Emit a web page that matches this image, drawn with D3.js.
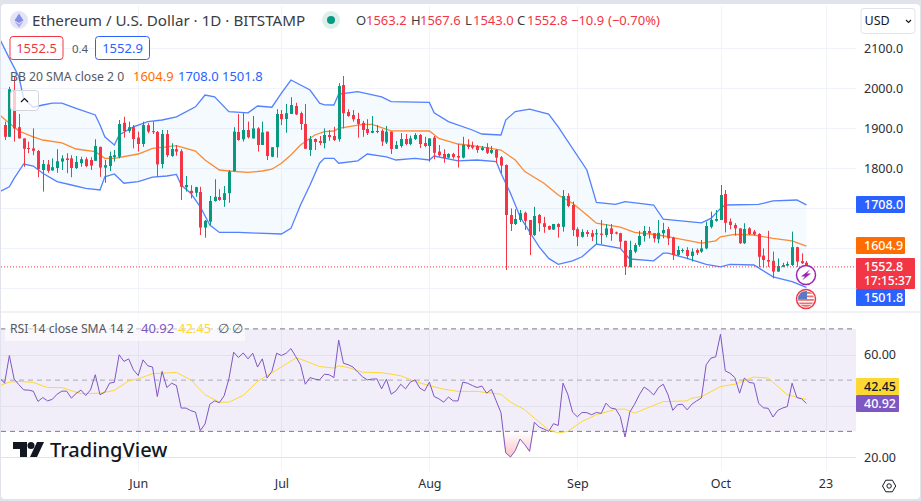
<!DOCTYPE html>
<html>
<head>
<meta charset="utf-8">
<script src="https://cdn.jsdelivr.net/npm/d3@7"></script>
<style>
    html, body { margin: 0; padding: 0; background: #e0e3eb; overflow: hidden; }
    text { font-family: "Noto Sans", sans-serif; }
</style>
</head>
<body>
<svg id="chart" width="921" height="501"></svg>
<script>
'use strict';

// daily candles, the first one is 4 May 2023
const firstDay = new Date(2023, 4, 4);
const opens = [1907.5,1878,1995,1902,1874,1850,1849,1842.5,1795,1809,
    1794,1800,1816,1824,1824,1800,1812,1822,1820,1818,
    1853,1801,1805,1827,1828,1913,1893,1902,1876,1860,
    1907,1892,1890,1810,1885,1830,1847,1842,1752,1743,
    1738,1740,1651,1666,1717.5,1727.5,1720,1737,1792.5,1890,
    1871.7,1895,1874,1899,1857.5,1891,1828,1852,1935,1922.5,
    1935,1955,1937,1910,1845,1872.5,1867.5,1862,1882.5,1880,
    1872,2007.5,1940,1932.5,1922.5,1913,1897.5,1888,1891,1893,
    1864,1891,1848,1855,1872.5,1860,1872.5,1882.5,1862.5,1855,
    1876,1841,1835,1826,1835,1830,1826,1858,1856,1855,
    1845,1851.7,1838,1845,1827,1807.5,1682.5,1660,1670,1688,
    1670,1632.5,1682.5,1662,1655,1646,1660,1653,1730,1707.5,
    1647,1628,1640,1637,1634,1636,1632.5,1649,1639,1637,
    1618,1552,1591,1607.5,1630,1642.5,1637,1622,1637,1647,
    1626,1582.5,1592.5,1595,1580,1595,1591,1599,1653,1668,
    1670,1735,1666,1657.5,1649,1612,1649,1641,1635,1581,
    1570,1568,1541,1553,1556,1557.5,1602,1567,1563.2];
const highs = [1916,2003,2028,1935,1874,1866,1899,1845,1820,1820,
    1824,1847,1832,1837,1832,1830,1828,1827,1827,1872,
    1853,1820,1841,1845,1920,1928,1916,1907.5,1891,1916,
    1912,1916,1892.5,1895,1895,1862,1857.5,1847,1780,1757,
    1753,1753,1670,1730,1772,1747,1755,1795,1902,1935,
    1937,1916,1930,1902,1916,1891,1852,1947,1945,1960,
    1977,1963,1941,1960,1880,1874,1880,1899,1895,1903,
    2012,2030,1947,1945,1938,1918,1922,1930,1907.5,1897,
    1905,1891,1867.5,1887,1885,1881,1887,1885,1878,1874,
    1880,1857.5,1847,1837,1838,1860,1878,1872,1866,1857.5,
    1855,1862,1855,1847,1830,1809,1699,1697,1695,1691,
    1670,1703,1685,1678,1656,1660,1662,1745,1737,1716,
    1652,1647,1645,1645,1647,1670,1660,1660,1641,1638,
    1618,1618,1612,1643,1655,1653,1637,1670,1663,1653,
    1628,1605,1599,1602,1599,1599,1620,1666,1691,1695,
    1757.5,1745,1674,1662,1649,1662,1652,1645,1637,1599,
    1643,1591,1574,1563,1566,1641,1603,1586.7,1567.6];
const lows = [1870,1878,1866,1874,1803,1837,1832,1777,1741,1788,
    1793,1788,1795,1787,1777,1797.5,1803,1802,1795,1818,
    1778,1763,1792.5,1816,1824,1876,1888,1849,1841,1853,
    1887,1885,1778,1799,1827,1828,1831,1720,1741,1724,
    1728,1632.5,1626,1657.5,1716,1718,1703,1713,1791,1868,
    1866,1874,1874,1841,1857.5,1820,1827,1826,1907.5,1888,
    1935,1932.5,1895,1848,1830,1845,1857,1849,1868,1867.5,
    1866,1899,1928,1916,1876,1878,1882.5,1887,1887,1855,
    1860,1835,1847.5,1851,1857,1857,1870,1850,1852,1816,
    1822,1828,1813,1824,1823,1801,1824,1847,1847,1838,
    1843,1835,1835,1813,1787,1545,1642.5,1657.5,1665,1645,
    1582.5,1630,1641,1638,1645,1645,1626,1641,1702,1630,
    1605,1626,1628,1617.5,1610,1610,1627,1618,1634,1599,
    1532.5,1552,1587,1603,1616,1624,1614,1612,1624,1607.5,
    1570,1580,1588,1572,1566,1582.5,1588,1597,1649,1666,
    1670,1639,1647,1631,1610,1610,1632.5,1631,1552,1551,
    1553,1524,1541,1552,1555,1555,1553,1560,1543];
const closes = [1878,1997,1899,1874,1848,1847.5,1843,1797,1810,1793,
    1802,1817,1824,1820,1800,1815,1822,1805,1806,1855,
    1801,1807,1830,1832,1910,1892.5,1902,1872.5,1860,1907.5,
    1891,1890,1809,1885,1832,1847.5,1841,1753,1757.5,1737,
    1752,1651,1668,1717.5,1728,1720,1737,1791,1891,1870,
    1895,1877,1899,1857.5,1889,1830,1852,1935,1922,1937,
    1957.5,1934,1910,1848,1872.5,1865,1862.5,1882.5,1877.5,1870,
    2005,1937,1930,1922,1910,1895,1887.5,1892.5,1892.5,1866,
    1891,1847.5,1857.5,1872.5,1860,1874,1882.5,1860,1855,1874,
    1838,1832,1825,1835,1827.5,1826,1858,1852.5,1851,1845,
    1851,1838,1845,1826,1806,1682.5,1660,1672.5,1687,1668,
    1632.5,1680,1662,1652.5,1646,1660,1652.5,1730,1705,1645,
    1628,1640,1635,1628,1637,1633,1649,1635,1636,1616,
    1553,1595,1607.5,1630,1642.5,1637,1624,1638,1645,1624,
    1582.5,1595,1595,1580,1591,1588,1599,1655,1670,1672.5,
    1732.5,1663,1657.5,1649,1612,1647.5,1635,1634,1578,1570,
    1566,1541,1555,1557.5,1560,1602,1566,1562,1552.8];

// bollinger bands, [candle number, price] read where the lines bend
const bbUpper = [[0,2122],[2,2074],[4,2028],[5,1974],[7,1952],[9,1957.5],[11,1962],[13,1962],[16,1949],[20,1932.5],[21,1907.5],[22,1878],[24,1857.5],[25,1882.5],[28,1903],[31,1916],[34,1920],[37,1928],[41,1953],[43,1982.5],[45,1978],[48,1941],[52,1938],[54,1955],[57,1952],[59,1987],[61,2020],[65,1995],[67,1962],[68,1958],[70,1957.5],[71,1985],[75,1991],[80,1978],[82,1966],[90,1964],[91,1938],[94,1916],[99,1895],[101,1885],[105,1882.5],[106,1920],[108,1941],[111,1947],[115,1935],[117,1903],[123,1795],[125,1714],[129,1709],[131,1716],[137,1707.5],[139,1672],[147,1663],[149,1674],[151,1699],[152,1707.5],[159,1709],[162,1718],[167,1720],[169,1708]];
const bbBasis = [[0,1932.5],[1,1922],[4,1892.5],[7,1878],[9,1870],[13,1863],[16,1847.5],[20,1841],[22,1824],[24,1824],[29,1835],[32,1849],[35,1853],[37,1856],[41,1842.5],[43,1820],[46,1795],[48,1792.5],[52,1789],[55,1792.5],[57,1797],[59,1812],[61,1832.5],[63,1857.5],[66,1882.5],[68,1891],[70,1892.5],[71,1899],[76,1909],[78,1909],[82,1893],[90,1892.5],[92,1874],[96,1860],[101,1853],[105,1845],[108,1820],[110,1791],[114,1762],[117,1732.5],[120,1712],[123,1682.5],[125,1662],[130,1652],[133,1639],[138,1632.5],[141,1626],[147,1612],[150,1618],[151,1628],[154,1634],[158,1632.5],[162,1624],[166,1618],[169,1604.9]];
const bbLower = [[0,1741],[2,1753],[3,1774],[5,1810],[7,1805],[9,1787],[12,1766],[15,1757.5],[18,1749],[21,1745],[22,1778],[24,1785],[26,1762],[29,1766],[32,1777],[35,1780],[37,1784],[38,1757.5],[40,1737],[42,1703],[44,1657.5],[46,1639],[50,1639],[54,1637],[59,1635],[61,1649],[63,1707.5],[65,1757.5],[67,1812],[68,1824],[70,1824],[71,1812],[75,1818],[77,1835],[81,1828],[83,1820],[87,1824],[90,1820],[91,1830],[96,1818],[100,1820],[104,1816],[105,1787],[107,1737],[109,1678],[113,1603],[115,1574],[117,1559],[120,1568],[122,1578],[125,1610],[130,1599],[132,1572.5],[137,1568],[139,1587],[140,1587],[144,1574],[148,1559],[151,1553],[153,1559],[158,1557.5],[162,1528],[166,1516],[169,1501.8]];

// rsi per candle, the first value belongs to the day before the first candle
const rsiValues = [50.8,48.8,59.6,50.4,48.2,46.2,46.1,45.7,41.7,43.2,41.9,42.5,44.5,45.7,45.7,43.0,44.8,46.1,44.0,46.2,
    52.1,44.3,45.3,48.8,49.2,59.9,57.3,58.3,54.0,51.8,57.9,55.6,55.1,43.6,53.4,47.1,48.8,47.9,39.1,39.1,
    38.1,37.5,30.3,32.9,40.6,41.9,41.2,43.9,50.5,60.9,58.8,60.6,58.3,60.5,55.1,58.3,50.8,53.4,60.5,59.6,
    60.5,62.3,59.2,56.0,48.4,51.0,50.4,50.1,52.3,52.1,51.0,65.6,56.6,56.0,55.1,53.1,51.3,50.1,50.4,50.5,
    46.6,50.4,44.5,45.8,48.4,46.6,49.2,50.1,46.9,45.8,49.2,43.6,42.7,41.4,43.4,41.9,41.9,49.2,48.8,47.9,
    47.1,47.7,44.9,46.4,41.9,37.3,21.6,20.0,22.5,27.0,24.8,22.2,33.6,31.7,30.9,30.0,33.0,32.3,48.8,44.5,
    37.5,35.7,37.4,37.3,36.5,37.4,37.0,41.0,39.1,38.8,35.8,27.8,37.5,40.6,44.3,47.3,46.0,44.2,47.1,48.4,
    44.3,38.2,40.4,40.6,38.4,40.6,41.9,43.0,56.0,58.6,59.1,67.9,53.6,52.7,51.0,44.9,50.8,49.1,48.8,40.9,
    39.2,39.0,35.6,38.2,39.1,39.7,48.8,43.2,42.7,40.92];
const rsiMa = [[0,47.9],[2,49.2],[4,49.5],[7,49.1],[10,47.1],[13,47.1],[17,44.7],[21,44.9],[24,46],[27,49.7],[29,50.5],[32,52.5],[37,53],[40,50.1],[43,44.3],[46,41.4],[48,41.4],[51,44],[54,49.5],[58,54],[62,58.6],[63,58.2],[67,55.3],[70,54.7],[71,55.6],[73,54.9],[76,53.1],[80,52.9],[84,51.7],[87,49.5],[90,47.8],[93,46.5],[96,45.6],[100,45.6],[105,44.5],[107,41.4],[110,38.4],[112,35.2],[115,30.6],[117,29.4],[119,30],[122,33.9],[125,36.5],[129,38.6],[131,38.7],[133,37.1],[136,39.4],[139,41.6],[144,41.9],[145,43],[147,43.5],[151,47.5],[154,48.4],[158,51.2],[161,50.8],[165,44.3],[169,42.45]];

const priceGrid = [2100, 2000, 1900, 1800, 1700, 1600, 1500];
const priceTicks = [2100, 2000, 1900, 1800]; // the others sit under the value badges
const rsiTicks = [60, 40, 20];
const rsiTickLabels = [60, 20];
const timeTicks = [new Date(2023, 5, 1), new Date(2023, 6, 1), new Date(2023, 7, 1), new Date(2023, 8, 1), new Date(2023, 9, 1), new Date(2023, 9, 23)];
const timeTickLabels = ["Jun", "Jul", "Aug", "Sep", "Oct", "23"];

const COLORS = {
    up: "#089981", down: "#f23645", band: "#2962ff", basis: "#ff6d00",
    rsi: "#7e57c2", rsiMa: "#fdd835", grid: "#f0f3fa", text: "#131722", muted: "#555862"
};
const CHART_RIGHT = 856;

const svg = d3.select("#chart");

// scales, the calendar is continuous so a time scale works
const x = d3.scaleTime()
    .domain([new Date(2023, 9, 1), new Date(2023, 9, 23)])
    .range([720.5, 825.5]);
const y = d3.scaleLinear().domain([1500, 2100]).range([288, 48]);
const yRsi = d3.scaleLinear().domain([20, 60]).range([457, 354.5]);

const candleDate = (n) => d3.timeDay.offset(firstDay, n - 1);

// chart card
svg.append("rect")
    .attr("x", 1).attr("y", 4)
    .attr("width", 919).attr("height", 495)
    .attr("rx", 4)
    .attr("fill", "#ffffff");

// clip for everything that lives in the panes
svg.append("clipPath").attr("id", "price-clip").append("rect")
    .attr("x", 1).attr("y", 5).attr("width", CHART_RIGHT - 1).attr("height", 307);
svg.append("clipPath").attr("id", "rsi-clip").append("rect")
    .attr("x", 1).attr("y", 313).attr("width", CHART_RIGHT - 1).attr("height", 158);

// grid
const grid = svg.append("g").attr("class", "grid").attr("stroke", COLORS.grid).attr("stroke-width", 1);
timeTicks.forEach((d) => {
    const px = Math.round(x(d)) + 0.5;
    grid.append("line").attr("x1", px).attr("x2", px).attr("y1", 6).attr("y2", 311);
    grid.append("line").attr("x1", px).attr("x2", px).attr("y1", 313).attr("y2", 471);
});
priceGrid.forEach((d) => {
    const py = Math.round(y(d)) + 0.5;
    grid.append("line").attr("x1", 1).attr("x2", CHART_RIGHT).attr("y1", py).attr("y2", py);
});

// pane separator
svg.append("line")
    .attr("x1", 1).attr("x2", 920).attr("y1", 312).attr("y2", 312)
    .attr("stroke", "#e0e3eb");

// price pane
const pricePane = svg.append("g").attr("clip-path", "url(#price-clip)");
const priceLine = d3.line().x((d) => x(candleDate(d[0]))).y((d) => y(d[1]));

pricePane.append("path")
    .attr("d", priceLine(bbUpper.concat(bbLower.slice().reverse())) + "Z")
    .attr("fill", "rgba(33,150,243,0.05)");

[[bbUpper, COLORS.band], [bbLower, COLORS.band], [bbBasis, COLORS.basis]].forEach(([values, color]) => {
    pricePane.append("path")
        .attr("d", priceLine(values))
        .attr("fill", "none")
        .attr("stroke", color)
        .attr("stroke-opacity", 0.8)
        .attr("stroke-width", 1.3);
});

// candles
const candles = pricePane.selectAll("g.candle")
    .data(opens.map((o, i) => ({ n: i + 1, o: o, h: highs[i], l: lows[i], c: closes[i] })))
    .join("g")
    .classed("candle", true)
    .attr("fill", (d) => d.c >= d.o ? COLORS.up : COLORS.down);

candles.append("rect")
    .attr("x", (d) => Math.round(x(candleDate(d.n))))
    .attr("width", 1)
    .attr("y", (d) => y(d.h))
    .attr("height", (d) => y(d.l) - y(d.h));

candles.append("rect")
    .attr("x", (d) => Math.round(x(candleDate(d.n))) - 1)
    .attr("width", 3)
    .attr("y", (d) => y(Math.max(d.o, d.c)))
    .attr("height", (d) => Math.max(1, Math.abs(y(d.o) - y(d.c))));

// last price line
svg.append("line")
    .attr("x1", 1).attr("x2", CHART_RIGHT)
    .attr("y1", y(closes[closes.length - 1])).attr("y2", y(closes[closes.length - 1]))
    .attr("stroke", COLORS.down)
    .attr("stroke-dasharray", "1,2");

// rsi pane
const rsiPane = svg.append("g").attr("clip-path", "url(#rsi-clip)");
rsiPane.append("rect")
    .attr("x", 1).attr("width", CHART_RIGHT - 1)
    .attr("y", yRsi(70)).attr("height", yRsi(30) - yRsi(70))
    .attr("fill", "rgba(126,87,194,0.1)");

rsiTicks.forEach((d) => {
    rsiPane.append("line")
        .attr("x1", 1).attr("x2", CHART_RIGHT)
        .attr("y1", Math.round(yRsi(d)) + 0.5).attr("y2", Math.round(yRsi(d)) + 0.5)
        .attr("stroke", "#e4e1ef");
});

[[70, "#787b86"], [50, "rgba(120,123,134,0.6)"], [30, "#787b86"]].forEach(([level, color]) => {
    rsiPane.append("line")
        .attr("x1", 1).attr("x2", CHART_RIGHT)
        .attr("y1", yRsi(level)).attr("y2", yRsi(level))
        .attr("stroke", color)
        .attr("stroke-dasharray", "5,4");
});

// oversold gradient under the 30 line
const defs = svg.append("defs");
const oversold = defs.append("linearGradient")
    .attr("id", "oversold")
    .attr("gradientUnits", "userSpaceOnUse")
    .attr("x1", 0).attr("x2", 0)
    .attr("y1", yRsi(30)).attr("y2", yRsi(20));
oversold.append("stop").attr("offset", 0).attr("stop-color", "#f23645").attr("stop-opacity", 0);
oversold.append("stop").attr("offset", 1).attr("stop-color", "#f23645").attr("stop-opacity", 0.3);

const rsiX = (d, i) => x(candleDate(i));
rsiPane.append("path")
    .attr("d", d3.area()
        .x(rsiX)
        .y0(yRsi(30))
        .y1((d) => yRsi(Math.min(d, 30)))(rsiValues))
    .attr("fill", "url(#oversold)");

rsiPane.append("path")
    .attr("d", d3.line().x((d) => x(candleDate(d[0]))).y((d) => yRsi(d[1]))(rsiMa))
    .attr("fill", "none")
    .attr("stroke", COLORS.rsiMa)
    .attr("stroke-width", 1);

rsiPane.append("path")
    .attr("d", d3.line().x(rsiX).y((d) => yRsi(d))(rsiValues))
    .attr("fill", "none")
    .attr("stroke", COLORS.rsi)
    .attr("stroke-width", 1);

// axes
const styleAxis = (g) => {
    g.select(".domain").remove();
    g.selectAll(".tick line").remove();
    g.selectAll("text")
        .attr("fill", "#2a2e39")
        .style("font-size", "12.5px")
        .style("font-family", '"Noto Sans", sans-serif');
};

svg.append("g")
    .attr("transform", `translate(856,0)`)
    .call(d3.axisRight(y).tickValues(priceTicks).tickFormat(d3.format(".1f")).tickSize(0).tickPadding(8))
    .call(styleAxis);

svg.append("g")
    .attr("transform", `translate(856,0)`)
    .call(d3.axisRight(yRsi).tickValues(rsiTickLabels).tickFormat(d3.format(".2f")).tickSize(0).tickPadding(8))
    .call(styleAxis);

svg.append("g")
    .attr("transform", `translate(0,472)`)
    .call(d3.axisBottom(x).tickValues(timeTicks)
        .tickFormat((d, i) => timeTickLabels[i]).tickSize(0).tickPadding(7))
    .call(styleAxis);

// header texts, a helper keeps the many small labels short
const label = (text, px, py, color, size, anchor, weight) => svg.append("text")
    .attr("x", px).attr("y", py)
    .attr("fill", color)
    .attr("font-size", size || 13)
    .attr("text-anchor", anchor || "start")
    .attr("font-weight", weight || 400)
    .text(text);

// coin icon
svg.append("circle").attr("cx", 19).attr("cy", 20).attr("r", 9).attr("fill", "#e3e5f5");
svg.append("path").attr("d", "M19,13.5 L23.5,20.5 L19,23 L14.5,20.5 Z").attr("fill", "#7f8fe8");
svg.append("path").attr("d", "M19,24 L23.5,21.5 L19,27.5 L14.5,21.5 Z").attr("fill", "#b8a4ec");

label("Ethereum / U.S. Dollar · 1D · BITSTAMP", 32, 26, "#3a3d46", 15.2);

svg.append("circle").attr("cx", 331).attr("cy", 20).attr("r", 9).attr("fill", "#dcefeb");
svg.append("circle").attr("cx", 331).attr("cy", 20).attr("r", 4).attr("fill", COLORS.up);

// ohlc legend
const ohlcLetters = ["O", "H", "L", "C"];
const ohlcValues = ["1563.2", "1567.6", "1543.0", "1552.8"];
const ohlcLetterX = [356, 411, 465, 517];
const ohlcValueX = [366, 420, 473, 527];
ohlcLetters.forEach((d, i) => {
    label(d, ohlcLetterX[i], 25, "#3a3d46", 13);
    label(ohlcValues[i], ohlcValueX[i], 25, COLORS.down, 13);
});
label("−10.9", 571, 25, COLORS.down, 13);
label("(−0.70%)", 608, 25, COLORS.down, 13);

// bid / ask boxes
svg.append("rect").attr("x", 10).attr("y", 36.5).attr("width", 53).attr("height", 23)
    .attr("rx", 3).attr("fill", "#fff").attr("stroke", COLORS.down);
label("1552.5", 36.5, 53, COLORS.down, 13, "middle");
label("0.4", 80, 53, COLORS.muted, 11.5, "middle");
svg.append("rect").attr("x", 95.5).attr("y", 36.5).attr("width", 54).attr("height", 23)
    .attr("rx", 3).attr("fill", "#fff").attr("stroke", "#2962ff");
label("1552.9", 122.5, 53, "#2962ff", 13, "middle");

// indicator legend
label("BB 20 SMA close 2 0", 10, 81, COLORS.muted, 12.2);
label("1604.9", 133, 81, COLORS.basis, 13);
label("1708.0", 178, 81, "#2962ff", 13);
label("1501.8", 222, 81, "#2962ff", 13);

// collapse button
svg.append("rect").attr("x", 10.5).attr("y", 90.5).attr("width", 28).attr("height", 20)
    .attr("rx", 3).attr("fill", "rgba(255,255,255,0.75)").attr("stroke", "#d1d4dc");
svg.append("path").attr("d", "M21,102 L24.5,98.5 L28,102")
    .attr("fill", "none").attr("stroke", COLORS.text).attr("stroke-width", 1.2);

// currency select
svg.append("rect").attr("x", 861).attr("y", 8.5).attr("width", 54).attr("height", 25)
    .attr("rx", 3).attr("fill", "#fff").attr("stroke", "#e0e3eb");
label("USD", 864.5, 25, COLORS.text, 12.5);
svg.append("path").attr("d", "M906,20 L908.5,22.5 L911,20")
    .attr("fill", "none").attr("stroke", COLORS.text).attr("stroke-width", 1.1);

// rsi legend
svg.append("rect").attr("x", 5).attr("y", 315).attr("width", 240).attr("height", 26)
    .attr("fill", "rgba(255,255,255,0.6)");
label("RSI 14 close SMA 14 2", 10, 333, COLORS.muted, 12.2);
label("40.92", 141, 333, COLORS.rsi, 13);
label("42.45", 178, 333, COLORS.rsiMa, 13);
label("∅", 218, 333, COLORS.muted, 12.5);
label("∅", 232, 333, COLORS.muted, 12.5);

// last value badges
const badge = (text, top, bottom, fill, color, right) => {
    svg.append("rect").attr("x", 856).attr("y", top)
        .attr("width", (right || 905) - 856).attr("height", bottom - top)
        .attr("rx", 1).attr("fill", fill);
    label(text, 864, (top + bottom) / 2 + 4.5, color, 12.5, "start", 500);
};
badge("1708.0", 196, 213, "#2962ff", "#fff");
badge("1604.9", 237, 254, COLORS.basis, "#fff");
badge("1501.8", 289, 306, "#2962ff", "#fff");
svg.append("rect").attr("x", 856).attr("y", 258).attr("width", 59).attr("height", 31)
    .attr("rx", 1).attr("fill", COLORS.down);
label("1552.8", 864, 271, "#fff", 12.5, "start", 500);
label("17:15:37", 864, 285, "#fff", 12, "start", 500);
badge("42.45", 378, 395, COLORS.rsiMa, COLORS.text, 899);
badge("40.92", 395, 412, COLORS.rsi, "#fff", 899);

// event markers
const bolt = svg.append("g").attr("transform", "translate(806,275)");
bolt.append("circle").attr("r", 9.5).attr("fill", "#fff").attr("stroke", "#9c27b0").attr("stroke-width", 1.5);
bolt.append("path").attr("d", "M4,-5.5 L-5,1.5 L-1,1.5 L-4,5.5 L5,-1.5 L1,-1.5 Z").attr("fill", "#9c27b0");

const flag = svg.append("g").attr("transform", "translate(806,299)");
flag.append("clipPath").attr("id", "flag-clip").append("circle").attr("r", 8);
flag.append("circle").attr("r", 9.5).attr("fill", "#fff").attr("stroke", COLORS.down).attr("stroke-width", 1.5);
const flagBody = flag.append("g").attr("clip-path", "url(#flag-clip)");
[-7, -3.5, 0, 3.5, 6].forEach((d) => {
    flagBody.append("rect").attr("x", -9).attr("y", d).attr("width", 18).attr("height", 1.8).attr("fill", "#e57373");
});
flagBody.append("rect").attr("x", -9).attr("y", -9).attr("width", 10).attr("height", 9).attr("fill", "#5c79c7");

// settings icon
svg.append("path")
    .attr("d", "M882.5,486 L885.8,480.2 L892.4,480.2 L895.7,486 L892.4,491.8 L885.8,491.8 Z")
    .attr("fill", "none").attr("stroke", COLORS.text).attr("stroke-width", 1);
svg.append("circle").attr("cx", 889.1).attr("cy", 486).attr("r", 2.2)
    .attr("fill", "none").attr("stroke", COLORS.text).attr("stroke-width", 1);

// tradingview logo
const logo = svg.append("g").attr("fill", "#131722");
logo.append("path").attr("d", "M13,442 H27 V457 H20 V449 H13 Z");
logo.append("circle").attr("cx", 31).attr("cy", 445.5).attr("r", 3.5);
logo.append("path").attr("d", "M37,442 H44 L37,457 H30 Z");
label("TradingView", 50, 457, "#131722", 20, "start", 500);
</script>
</body>
</html>
